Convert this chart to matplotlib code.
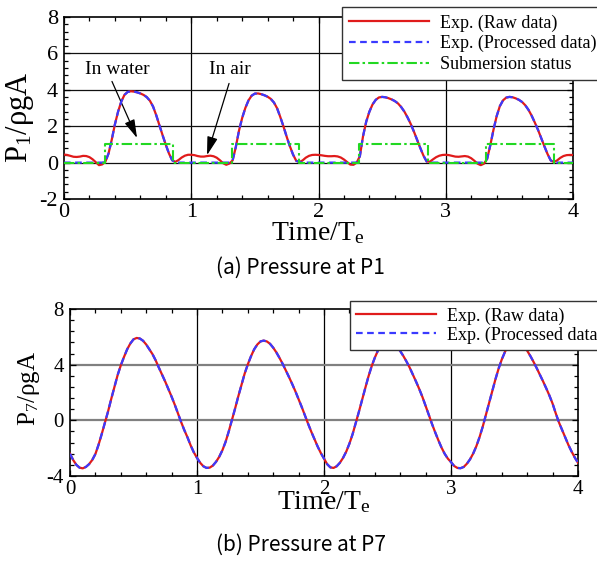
import numpy as np
import matplotlib
matplotlib.use("Agg")
import matplotlib.pyplot as plt
from matplotlib.ticker import MultipleLocator

plt.rcParams["font.family"] = "Liberation Serif"
plt.rcParams["mathtext.fontset"] = "custom"
plt.rcParams["mathtext.rm"] = "Liberation Serif"
plt.rcParams["axes.unicode_minus"] = False

# time axis, 0.025 T_e sampling over four wave periods
time = np.linspace(0, 4, 161)

# pressure at P1 (raw), one row per quarter period
p1_raw = [
    0.44, 0.42, 0.37, 0.32, 0.31, 0.33, 0.37, 0.36, 0.30, 0.18,
    0.02, -0.14, -0.10, 0.05, 0.50, 1.25, 2.10, 2.80, 3.35, 3.72,
    3.88, 3.92, 3.90, 3.86, 3.80, 3.72, 3.60, 3.40, 3.08, 2.60,
    2.05, 1.50, 0.98, 0.50, 0.13, 0.04, 0.14, 0.28, 0.38, 0.43,
    0.43, 0.41, 0.36, 0.33, 0.33, 0.36, 0.38, 0.35, 0.27, 0.13,
    -0.03, -0.12, -0.05, 0.12, 0.85, 1.75, 2.45, 3.00, 3.42, 3.68,
    3.79, 3.80, 3.76, 3.70, 3.62, 3.50, 3.30, 2.98, 2.50, 1.98,
    1.42, 0.90, 0.44, 0.10, 0.03, 0.12, 0.27, 0.37, 0.42, 0.43,
    0.42, 0.40, 0.37, 0.35, 0.35, 0.36, 0.34, 0.28, 0.17, 0.03,
    -0.11, -0.12, 0.00, 0.35, 1.45, 2.25, 2.80, 3.20, 3.45, 3.58,
    3.61, 3.59, 3.54, 3.47, 3.38, 3.25, 3.05, 2.80, 2.48, 2.12,
    1.70, 1.25, 0.80, 0.38, 0.06, 0.05, 0.18, 0.30, 0.38, 0.42,
    0.43, 0.41, 0.37, 0.33, 0.32, 0.34, 0.36, 0.33, 0.24, 0.10,
    -0.06, -0.14, -0.06, 0.20, 0.95, 1.80, 2.55, 3.10, 3.42, 3.57,
    3.61, 3.59, 3.53, 3.45, 3.33, 3.15, 2.90, 2.58, 2.20, 1.80,
    1.35, 0.90, 0.47, 0.12, 0.03, 0.12, 0.26, 0.36, 0.41, 0.42,
    0.42,
]

# pressure at P1 after removing the in-air part
p1_processed = [
    0, 0, 0, 0, 0, 0, 0, 0, 0, 0,
    0, 0, 0, 0.05, 0.50, 1.25, 2.10, 2.80, 3.35, 3.72,
    3.88, 3.92, 3.90, 3.86, 3.80, 3.72, 3.60, 3.40, 3.08, 2.60,
    2.05, 1.50, 0.98, 0.50, 0.13, 0, 0, 0, 0, 0,
    0, 0, 0, 0, 0, 0, 0, 0, 0, 0,
    0, 0, 0, 0.12, 0.85, 1.75, 2.45, 3.00, 3.42, 3.68,
    3.79, 3.80, 3.76, 3.70, 3.62, 3.50, 3.30, 2.98, 2.50, 1.98,
    1.42, 0.90, 0.44, 0.10, 0.03, 0, 0, 0, 0, 0,
    0, 0, 0, 0, 0, 0, 0, 0, 0, 0,
    0, 0, 0, 0.35, 1.45, 2.25, 2.80, 3.20, 3.45, 3.58,
    3.61, 3.59, 3.54, 3.47, 3.38, 3.25, 3.05, 2.80, 2.48, 2.12,
    1.70, 1.25, 0.80, 0.38, 0.06, 0, 0, 0, 0, 0,
    0, 0, 0, 0, 0, 0, 0, 0, 0, 0,
    0, 0, 0, 0.20, 0.95, 1.80, 2.55, 3.10, 3.42, 3.57,
    3.61, 3.59, 3.53, 3.45, 3.33, 3.15, 2.90, 2.58, 2.20, 1.80,
    1.35, 0.90, 0.47, 0.12, 0.03, 0, 0, 0, 0, 0,
    0,
]

# submersion status: 1 = in water, 0 = in air
status_time = [0.0, 0.32, 0.86, 1.32, 1.85, 2.32, 2.86, 3.32, 3.85, 4.0]
status_value = [0, 1, 0, 1, 0, 1, 0, 1, 0, 0]

# pressure at P7 (always submerged)
p7_raw = [
    -2.40, -2.85, -3.20, -3.40, -3.45, -3.35, -3.15, -2.85, -2.42, -1.75,
    -0.98, -0.15, 0.65, 1.55, 2.40, 3.25, 3.95, 4.55, 5.10, 5.52,
    5.82, 5.92, 5.88, 5.72, 5.45, 5.10, 4.75, 4.30, 3.78, 3.28,
    2.78, 2.25, 1.70, 1.12, 0.50, -0.12, -0.70, -1.22, -1.80, -2.30,
    -2.70, -3.05, -3.30, -3.42, -3.40, -3.25, -2.98, -2.62, -2.15, -1.55,
    -0.80, 0.02, 0.85, 1.72, 2.55, 3.35, 4.02, 4.60, 5.10, 5.45,
    5.67, 5.73, 5.67, 5.50, 5.22, 4.88, 4.48, 4.05, 3.58, 3.10,
    2.60, 2.08, 1.52, 0.95, 0.35, -0.25, -0.82, -1.35, -1.88, -2.35,
    -2.75, -3.15, -3.38, -3.42, -3.30, -3.05, -2.70, -2.25, -1.68, -1.00,
    -0.20, 0.62, 1.48, 2.32, 3.15, 3.88, 4.50, 5.02, 5.42, 5.68,
    5.78, 5.72, 5.55, 5.28, 4.98, 4.62, 4.22, 3.78, 3.28, 2.78,
    2.25, 1.68, 1.05, 0.40, -0.25, -0.85, -1.42, -1.95, -2.40, -2.75,
    -3.00, -3.28, -3.42, -3.44, -3.35, -3.12, -2.80, -2.38, -1.85, -1.20,
    -0.45, 0.40, 1.25, 2.10, 2.95, 3.72, 4.38, 4.92, 5.35, 5.65,
    5.78, 5.74, 5.58, 5.32, 5.00, 4.62, 4.20, 3.75, 3.28, 2.80,
    2.30, 1.78, 1.20, 0.50, -0.15, -0.70, -1.25, -1.78, -2.25, -2.68,
    -3.05,
]
p7_processed = p7_raw

RED = "#e01b1b"
BLUE = "#3a3aff"
GREEN = "#22d822"

W, H = 597, 563
fig = plt.figure(figsize=(W / 100, H / 100), dpi=100)
ax1 = fig.add_axes([64 / W, 1 - 199 / H, 509 / W, 182 / H])
ax2 = fig.add_axes([70 / W, 1 - 476 / H, 508 / W, 167 / H])


def style_axes(ax, fs):
    ax.tick_params(which="both", direction="in", top=True, right=True,
                   width=0.9, labelsize=fs)
    ax.tick_params(which="major", length=4.5, pad=3)
    ax.tick_params(which="minor", length=3)
    ax.tick_params(axis="y", pad=4.5)
    for s in ax.spines.values():
        s.set_linewidth(1.2)
    ax.set_xlim(0, 4)
    ax.xaxis.set_major_locator(MultipleLocator(1))
    ax.xaxis.set_minor_locator(MultipleLocator(0.2))
    for x in (1, 2, 3):
        ax.axvline(x, color="k", lw=0.9, zorder=1)


def make_legend(ax, handles, top, left, spacing, pad):
    leg = ax.legend(handles=handles, loc="upper left",
                    bbox_to_anchor=(left / W, 1 - top / H), bbox_transform=fig.transFigure,
                    borderaxespad=0, fontsize=13, handlelength=4.4, handletextpad=0.6,
                    labelspacing=spacing, borderpad=pad, fancybox=False, framealpha=1)
    leg.get_frame().set_edgecolor("#333333")
    leg.get_frame().set_linewidth(1.0)
    leg.set_zorder(10)
    return leg


# (a) P1
style_axes(ax1, 16)
ax1.set_ylim(-2, 8)
ax1.yaxis.set_major_locator(MultipleLocator(2))
ax1.yaxis.set_minor_locator(MultipleLocator(0.4))
for y in (0, 2, 4, 6):
    ax1.axhline(y, color="#111111", lw=0.9, zorder=1)

l1, = ax1.plot(time, p1_raw, color=RED, lw=1.6, zorder=3, label="Exp. (Raw data)")
l2, = ax1.plot(time, p1_processed, color=BLUE, lw=1.6, dashes=(3, 2), zorder=4,
               label="Exp. (Processed data)")
l3, = ax1.plot(status_time, status_value, color=GREEN, lw=1.5, drawstyle="steps-post",
               dashes=(5, 1.5, 1.2, 1.5), zorder=5, label="Submersion status")

ax1.text(0.416, 5.1, "In water", fontsize=14, ha="center", va="center")
ax1.text(1.30, 5.1, "In air", fontsize=14, ha="center", va="center")
arrow = dict(arrowstyle="-|>,head_length=0.7,head_width=0.2", color="k", lw=0.9,
             mutation_scale=16, shrinkA=0, shrinkB=0)
ax1.annotate("", xy=(0.574, 1.35), xytext=(0.377, 4.46), arrowprops=arrow)
ax1.annotate("", xy=(1.124, 0.41), xytext=(1.297, 4.35), arrowprops=arrow)

make_legend(ax1, [l1, l2, l3], top=7, left=342, spacing=0.2, pad=0.4)

fig.text(20 / W, 1 - 117 / H, r"$\mathregular{P_1}$/ρgA", fontsize=22,
         rotation=90, ha="center", va="center")
fig.text(318 / W, 1 - 240 / H, r"Time/$\mathregular{T_e}$", fontsize=20,
         ha="center", va="baseline")
fig.text(300 / W, 1 - 268 / H, "(a) Pressure at P1", fontsize=15,
         family="Noto Sans CJK KR", ha="center", va="center")

# (b) P7
style_axes(ax2, 15)
ax2.set_ylim(-4, 8)
ax2.yaxis.set_major_locator(MultipleLocator(4))
ax2.yaxis.set_minor_locator(MultipleLocator(0.8))
for y in (0, 4):
    ax2.axhline(y, color="#808080", lw=1.6, zorder=1)

m1, = ax2.plot(time, p7_raw, color=RED, lw=1.6, zorder=3, label="Exp. (Raw data)")
m2, = ax2.plot(time, p7_processed, color=BLUE, lw=1.6, dashes=(3, 2), zorder=4,
               label="Exp. (Processed data)")

make_legend(ax2, [m1, m2], top=301, left=350, spacing=0.09, pad=0.35)

fig.text(29 / W, 1 - 388 / H, r"$\mathregular{P_7}$/ρgA", fontsize=18,
         rotation=90, ha="center", va="center")
fig.text(324 / W, 1 - 509 / H, r"Time/$\mathregular{T_e}$", fontsize=20,
         ha="center", va="baseline")
fig.text(301 / W, 1 - 545 / H, "(b) Pressure at P7", fontsize=15,
         family="Noto Sans CJK KR", ha="center", va="center")

fig.savefig("out.png", dpi=100)
